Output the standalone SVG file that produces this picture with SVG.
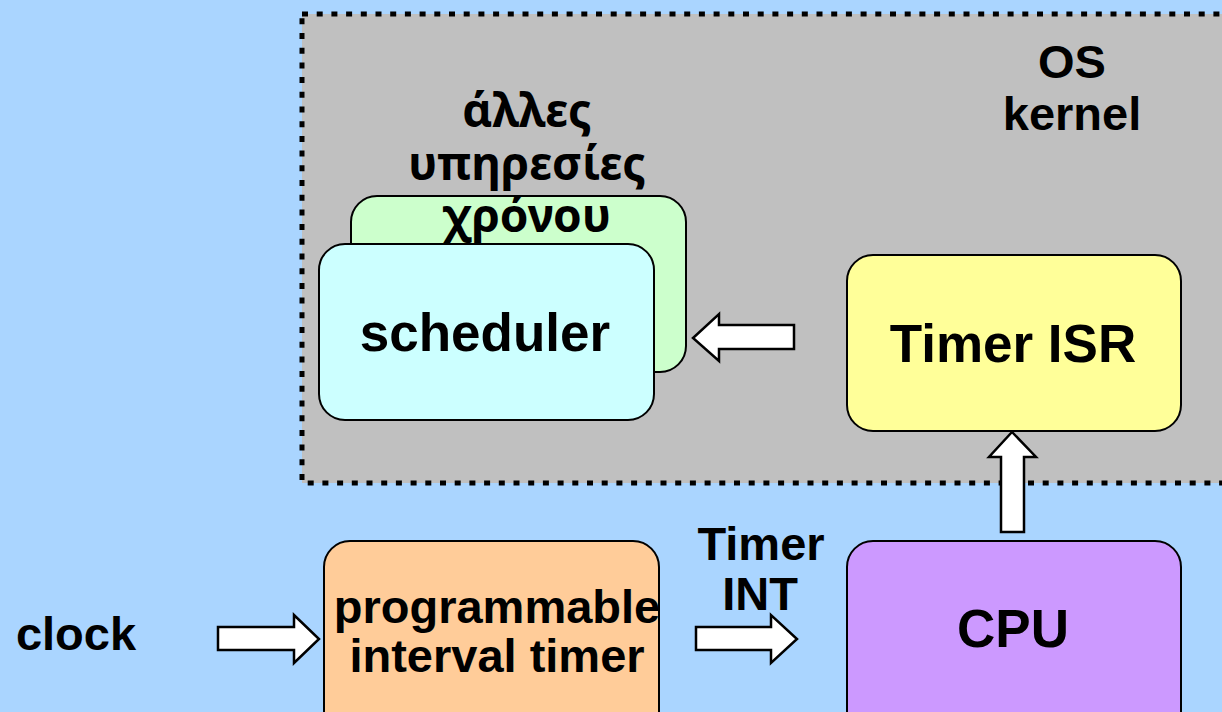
<svg xmlns="http://www.w3.org/2000/svg" width="1222" height="712" viewBox="0 0 1222 712">
<style>
.t{font-family:"Liberation Sans",Arial,sans-serif;font-weight:bold;fill:#000;text-anchor:middle}
.m{font-size:47px}
.b{font-size:53px}
.g{font-family:"Noto Sans","Liberation Sans",sans-serif;font-weight:bold;font-size:46px;fill:#000;text-anchor:middle}
.box{stroke:#000;stroke-width:2}
.arr{fill:#fff;stroke:#000;stroke-width:2.5;stroke-linejoin:miter}
</style>
<rect x="0" y="0" width="1222" height="712" fill="#AAD5FF"/>
<g id="os-kernel">
<rect x="302" y="14" width="940" height="469" fill="#C0C0C0" stroke="#000" stroke-width="5" stroke-dasharray="6 8.7"/>
<text class="t m" x="1072" y="78">OS</text>
<text class="t m" x="1072" y="130">kernel</text>
</g>
<g id="time-services">
<rect class="box" x="351" y="196" width="335" height="176" rx="26" fill="#CCFFCC"/>
<text class="g" x="527" y="127">άλλες</text>
<text class="g" x="527" y="180">υπηρεσίες</text>
<text class="g" x="527" y="232">χρόνου</text>
</g>
<g id="scheduler">
<rect class="box" x="319" y="244" width="335" height="176" rx="26" fill="#CCFFFF"/>
<text class="t b" x="485" y="351">scheduler</text>
</g>
<g id="timer-isr">
<rect class="box" x="847" y="255" width="334" height="176" rx="26" fill="#FFFF99"/>
<text class="t b" x="1013" y="362">Timer ISR</text>
</g>
<g id="cpu">
<rect class="box" x="847" y="541" width="334" height="200" rx="26" fill="#CC99FF"/>
<text class="t b" x="1013" y="647">CPU</text>
</g>
<g id="pit">
<rect class="box" x="324" y="541" width="335" height="200" rx="26" fill="#FFCC99"/>
<text class="t m" x="497" y="623">programmable</text>
<text class="t m" x="497" y="672">interval timer</text>
</g>
<g id="clock">
<text class="t m" x="76" y="650">clock</text>
</g>
<g id="connectors">
<polygon class="arr" points="218,627 294,627 294,615 319,639 294,663 294,650 218,650"/>
<polygon class="arr" points="696,627 771,627 771,615 797,639 771,663 771,650 696,650"/>
<polygon class="arr" points="1001,532 1001,457 989,457 1012,432 1036,457 1024,457 1024,532"/>
<polygon class="arr" points="794,325 719,325 719,314 693,338 719,361 719,349 794,349"/>
<text class="t m" x="761" y="560">Timer</text>
<text class="t m" x="760" y="610">INT</text>
</g>
</svg>
